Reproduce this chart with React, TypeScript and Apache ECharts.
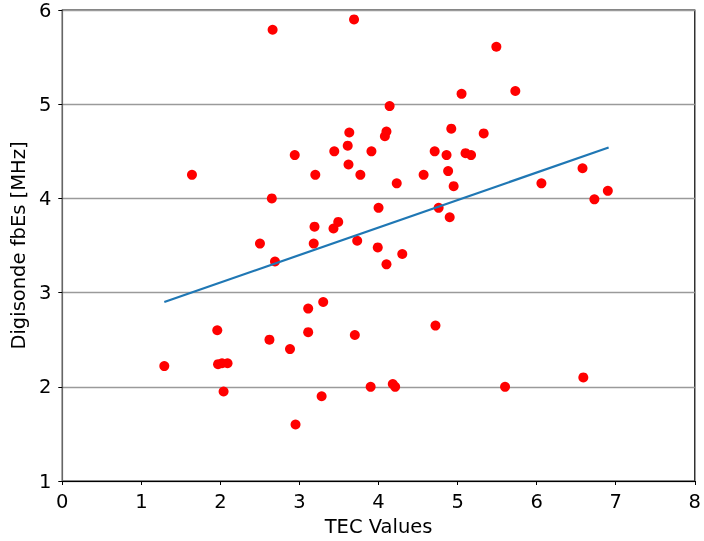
import React, { useEffect, useRef } from "react";
import * as echarts from "echarts";

// TEC vs Digisonde fbEs points
const tecValues = [
  2.66, 3.69, 4.14, 3.63, 4.1, 4.08, 2.94, 3.44, 3.61, 3.91, 1.64, 3.2, 3.62, 3.77,
  4.23, 2.65, 4.0, 3.49, 3.43, 3.19, 2.5, 3.18, 3.73, 3.99, 4.3, 4.1, 2.69, 1.29,
  1.96, 1.97, 2.02, 2.09, 2.04, 2.62, 2.88, 3.11, 3.3, 3.11, 2.95, 3.28, 3.7, 3.9,
  4.18, 4.21, 5.49, 5.05, 5.73, 4.92, 5.33, 4.71, 4.86, 5.1, 5.17, 4.57, 4.88, 4.95,
  6.06, 6.58, 6.73, 6.9, 4.76, 4.9, 4.72, 5.6, 6.59,
];
const fbEsValues = [
  5.79, 5.9, 4.98, 4.7, 4.71, 4.66, 4.46, 4.5, 4.56, 4.5, 4.25, 4.25, 4.36, 4.25,
  4.16, 4.0, 3.9, 3.75, 3.68, 3.7, 3.52, 3.52, 3.55, 3.48, 3.41, 3.3, 3.33, 2.22,
  2.6, 2.24, 2.25, 2.25, 1.95, 2.5, 2.4, 2.83, 2.9, 2.58, 1.6, 1.9, 2.55, 2.0,
  2.03, 2.0, 5.61, 5.11, 5.14, 4.74, 4.69, 4.5, 4.46, 4.48, 4.46, 4.25, 4.29, 4.13,
  4.16, 4.32, 3.99, 4.08, 3.9, 3.8, 2.65, 2.0, 2.1,
];

// fitted line end points
const fitX = [1.29, 6.91];
const fitY = [2.9, 4.54];

const xTicks = [0, 8];
const yTicks = [1, 6];

const FONT = "DejaVu Sans";
const FS = 19.5;

const App = () => {
  const chartRef = useRef(null);

  useEffect(() => {
    const myChart = echarts.init(chartRef.current, null, { renderer: "svg" });

    const option = {
      animation: false,
      grid: {
        left: 60.5,
        right: 6,
        top: 9.5,
        bottom: 57.3,
        show: true,
        borderColor: "#000",
        borderWidth: 1.2,
        backgroundColor: "transparent",
      },
      xAxis: {
        type: "value",
        min: xTicks[0],
        max: xTicks[1],
        interval: 1,
        name: "TEC Values",
        nameLocation: "middle",
        nameGap: 35,
        nameTextStyle: { fontFamily: FONT, fontSize: FS, color: "#000" },
        axisLine: { show: true, onZero: false, lineStyle: { color: "#000", width: 1.2 } },
        axisTick: { show: true, inside: false, length: 4, lineStyle: { color: "#000" } },
        axisLabel: { fontFamily: FONT, fontSize: FS, color: "#000", margin: 10 },
        splitLine: { show: false },
      },
      yAxis: {
        type: "value",
        min: yTicks[0],
        max: yTicks[1],
        interval: 1,
        name: "Digisonde fbEs [MHz]",
        nameLocation: "middle",
        nameGap: 25,
        nameTextStyle: { fontFamily: FONT, fontSize: FS, color: "#000" },
        axisLine: { show: true, onZero: false, lineStyle: { color: "#666", width: 1.2 } },
        axisTick: { show: true, inside: false, length: 4, lineStyle: { color: "#000" } },
        axisLabel: { fontFamily: FONT, fontSize: FS, color: "#000", margin: 11 },
        splitLine: { show: true, lineStyle: { color: "#9a9a9a", width: 1.3 } },
      },
      series: [
        {
          type: "scatter",
          data: tecValues.map((x, i) => [x, fbEsValues[i]]),
          symbolSize: 10,
          itemStyle: { color: "#ff0000", opacity: 1 },
          z: 2,
        },
        {
          type: "line",
          data: fitX.map((x, i) => [x, fitY[i]]),
          showSymbol: false,
          symbol: "none",
          lineStyle: { color: "#1f77b4", width: 2.2 },
          z: 3,
        },
      ],
    };

    myChart.setOption(option);

    return () => {
      myChart.dispose();
    };
  }, []);

  return (
    <div
      ref={chartRef}
      style={{ position: "fixed", left: 0, top: 0, width: "704px", height: "541px" }}
    ></div>
  );
};

export default App;
